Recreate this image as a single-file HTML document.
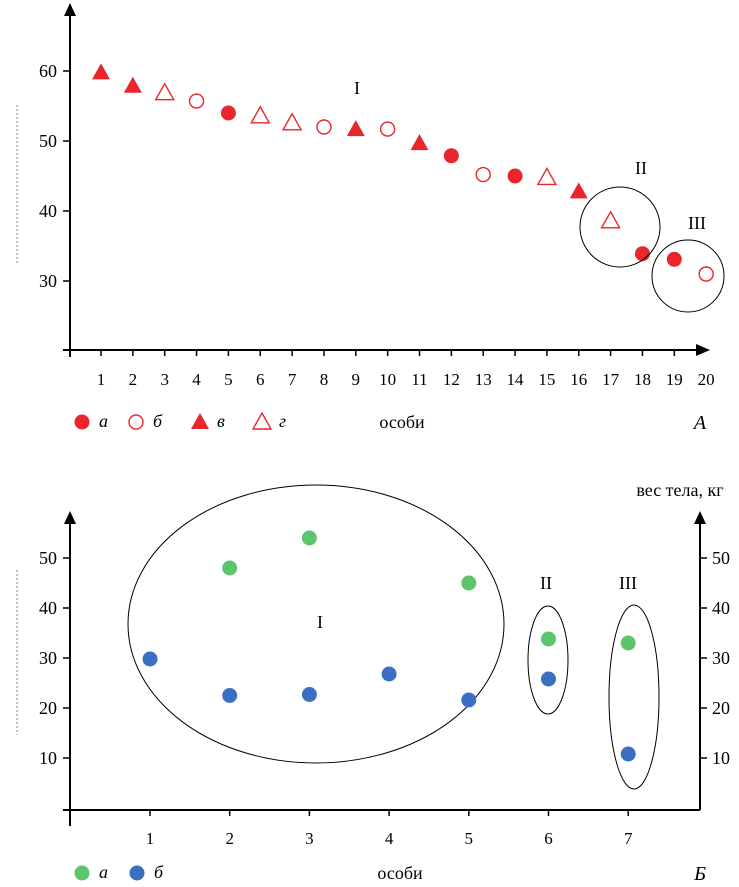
<!DOCTYPE html>
<html><head><meta charset="utf-8"><style>
html,body{margin:0;padding:0;background:#fff}
svg{display:block;font-family:"Liberation Serif",serif}
</style></head><body>
<svg width="739" height="887" viewBox="0 0 739 887">
<g id="top"></g>
<g id="bot"></g>
</svg>
<script>
const topCategories=[1,2,3,4,5,6,7,8,9,10,11,12,13,14,15,16,17,18,19,20];
const topValues=[59.8,57.9,56.9,55.7,54.0,53.6,52.6,52.0,51.7,51.7,49.7,47.9,45.2,45.0,44.8,42.8,38.6,33.9,33.1,31.0];
const topTypes=['v','v','g','b','a','g','g','b','v','b','v','a','b','a','g','v','g','a','a','b'];
const topYTicks=[30,40,50,60];
const botCategories=[1,2,3,4,5,6,7];
const botGreen=[null,48,54,null,45,33.8,33];
const botBlue=[29.8,22.5,22.7,26.8,21.6,25.8,10.8];
const botYTicks=[10,20,30,40,50];

const NS='http://www.w3.org/2000/svg';
function mk(p,t,a){const e=document.createElementNS(NS,t);for(const k in a)e.setAttribute(k,a[k]);p.appendChild(e);return e;}
const RED='#e8262b';
const FS=18;
// ---- top
const T=document.getElementById('top');
const tx=i=>101+(i-1)*31.85, ty=v=>71+(60-v)*7;
let e;
e=mk(T,'line',{x1:70,y1:12,x2:70,y2:357,stroke:'#000','stroke-width':2});

e=mk(T,'polygon',{points:'64,16 76,16 70,3'});

e=mk(T,'line',{x1:63,y1:350,x2:698,y2:350,stroke:'#000','stroke-width':2});

e=mk(T,'polygon',{points:'696,344 696,356 710,350'});

e=mk(T,'line',{x1:17,y1:105,x2:17,y2:265,stroke:'#888','stroke-width':1,'stroke-dasharray':'2,2'});

topYTicks.forEach(v=>{
 e=mk(T,'line',{x1:63,y1:ty(v),x2:70,y2:ty(v),stroke:'#000','stroke-width':1.5});
 
 e=mk(T,'text',{x:57,y:ty(v)+6,'text-anchor':'end','font-size':FS});e.textContent=v;
 
});
topCategories.forEach((c,i)=>{
 const x=tx(c);
 if(c<20){e=mk(T,'line',{x1:x,y1:350,x2:x,y2:356,stroke:'#000','stroke-width':1.5});
 }
 e=mk(T,'text',{x:x,y:385,'text-anchor':'middle','font-size':17});e.textContent=c;
 
 const y=ty(topValues[i]),t=topTypes[i];
 if(t==='a')e=mk(T,'circle',{cx:x,cy:y,r:7.5,fill:RED});
 else if(t==='b')e=mk(T,'circle',{cx:x,cy:y,r:7,fill:'none',stroke:RED,'stroke-width':1.4});
 else if(t==='v')e=mk(T,'polygon',{points:`${x-9},${y+7} ${x+9},${y+7} ${x},${y-9}`,fill:RED});
 else e=mk(T,'polygon',{points:`${x-9},${y+7} ${x+9},${y+7} ${x},${y-9}`,fill:'none',stroke:RED,'stroke-width':1.4});
 
});
[[620,227,40],[688,276,36]].forEach(c=>{e=mk(T,'circle',{cx:c[0],cy:c[1],r:c[2],fill:'none',stroke:'#000','stroke-width':1});
 });
[['I',357,94],['II',641,174],['III',697,229]].forEach(l=>{e=mk(T,'text',{x:l[1],y:l[2],'text-anchor':'middle','font-size':FS});e.textContent=l[0];
 });
function legend(P,items,y){items.forEach(it=>{
 const x=it.x;let m;
 if(it.s==='a')m=mk(P,'circle',{cx:x,cy:y,r:7.5,fill:it.c});
 else if(it.s==='b')m=mk(P,'circle',{cx:x,cy:y,r:7,fill:'none',stroke:it.c,'stroke-width':1.4});
 else if(it.s==='v')m=mk(P,'polygon',{points:`${x-9},${y+7} ${x+9},${y+7} ${x},${y-9}`,fill:it.c});
 else m=mk(P,'polygon',{points:`${x-9},${y+7} ${x+9},${y+7} ${x},${y-9}`,fill:'none',stroke:it.c,'stroke-width':1.4});
 
 const t=mk(P,'text',{x:x+17,y:y+5,'font-size':FS,'font-style':'italic'});t.textContent=it.l;
 
});}
legend(T,[{x:82,s:'a',c:RED,l:'а'},{x:136,s:'b',c:RED,l:'б'},{x:200,s:'v',c:RED,l:'в'},{x:262,s:'g',c:RED,l:'г'}],422);
e=mk(T,'text',{x:402,y:428,'text-anchor':'middle','font-size':FS});e.textContent='особи';

e=mk(T,'text',{x:700,y:429,'text-anchor':'middle','font-size':20,'font-style':'italic'});e.textContent='А';

// ---- bottom
const B=document.getElementById('bot');
const bx=i=>150+(i-1)*79.7, by=v=>758-(v-10)*5;
e=mk(B,'line',{x1:70,y1:520,x2:70,y2:826,stroke:'#000','stroke-width':2});

e=mk(B,'polygon',{points:'64,524 76,524 70,511'});

e=mk(B,'line',{x1:700,y1:520,x2:700,y2:810,stroke:'#000','stroke-width':2});

e=mk(B,'polygon',{points:'694,524 706,524 700,511'});

e=mk(B,'line',{x1:63,y1:810,x2:700,y2:810,stroke:'#000','stroke-width':2});

e=mk(B,'line',{x1:17,y1:570,x2:17,y2:735,stroke:'#888','stroke-width':1,'stroke-dasharray':'2,2'});

botYTicks.forEach(v=>{
 e=mk(B,'line',{x1:63,y1:by(v),x2:70,y2:by(v),stroke:'#000','stroke-width':1.5});
 
 e=mk(B,'text',{x:57,y:by(v)+6,'text-anchor':'end','font-size':FS});e.textContent=v;
 
 e=mk(B,'line',{x1:700,y1:by(v),x2:707,y2:by(v),stroke:'#000','stroke-width':1.5});
 
 e=mk(B,'text',{x:712,y:by(v)+6,'font-size':FS});e.textContent=v;
 
});
e=mk(B,'text',{x:680,y:496,'text-anchor':'middle','font-size':FS});e.textContent='вес тела, кг';

[[316,624,188,139],[548,660,20,54],[634,697,25,92]].forEach(c=>{e=mk(B,'ellipse',{cx:c[0],cy:c[1],rx:c[2],ry:c[3],fill:'none',stroke:'#000','stroke-width':1});
 });
[['I',320,628],['II',546,589],['III',628,589]].forEach(l=>{e=mk(B,'text',{x:l[1],y:l[2],'text-anchor':'middle','font-size':FS});e.textContent=l[0];
 });
botCategories.forEach((c,i)=>{
 const x=bx(c);
 e=mk(B,'line',{x1:x,y1:810,x2:x,y2:816,stroke:'#000','stroke-width':1.5});
 
 e=mk(B,'text',{x:x,y:844,'text-anchor':'middle','font-size':17});e.textContent=c;
 
 if(botGreen[i]!=null){e=mk(B,'circle',{cx:x,cy:by(botGreen[i]),r:7.5,fill:'#5cc46a'});
 }
 e=mk(B,'circle',{cx:x,cy:by(botBlue[i]),r:7.5,fill:'#3b6fc4'});
 
});
legend(B,[{x:82,s:'a',c:'#5cc46a',l:'а'},{x:137,s:'a',c:'#3b6fc4',l:'б'}],873);
e=mk(B,'text',{x:400,y:879,'text-anchor':'middle','font-size':FS});e.textContent='особи';

e=mk(B,'text',{x:700,y:880,'text-anchor':'middle','font-size':20,'font-style':'italic'});e.textContent='Б';

</script>
</body></html>
